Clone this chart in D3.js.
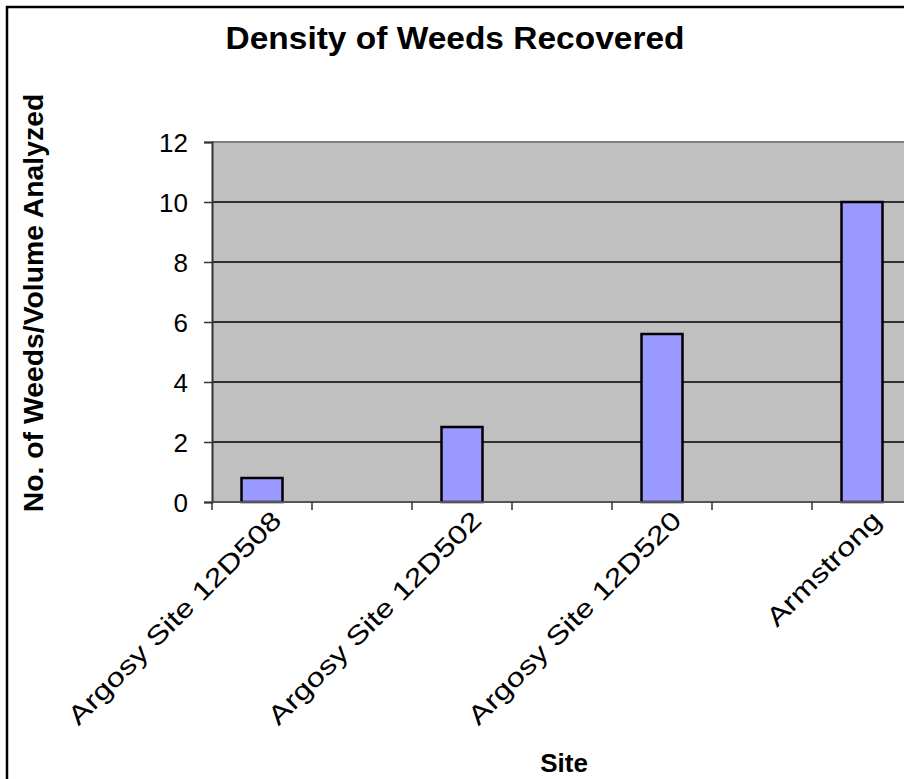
<!DOCTYPE html>
<html>
<head>
<meta charset="utf-8">
<script src="https://cdn.jsdelivr.net/npm/d3@7/dist/d3.min.js"></script>
<style>
  html, body { margin: 0; padding: 0; background: #fff; }
  svg { display: block; font-family: "Liberation Sans", Arial, sans-serif; }
</style>
</head>
<body>
<svg id="chart" width="904" height="779"></svg>
<script>
const categories = ["Argosy Site 12D508", "", "Argosy Site 12D502", "", "Argosy Site 12D520", "", "Armstrong"];
const values = [0.8, null, 2.5, null, 5.6, null, 10];
const yTicks = [0, 2, 4, 6, 8, 10, 12];
const titleText = "Density of Weeds Recovered";
const yTitle = "No. of Weeds/Volume Analyzed";
const xTitle = "Site";

const svg = d3.select("#chart");
const plot = { left: 212, right: 912, top: 142, bottom: 502 };

// outer chart border
svg.append("rect").attr("x", 7).attr("y", 7).attr("width", 1000).attr("height", 1000)
  .attr("fill", "#fff").attr("stroke", "#000").attr("stroke-width", 2.5);

const x = d3.scaleBand().domain(d3.range(categories.length)).range([plot.left, plot.right]).padding(0);
const y = d3.scaleLinear().domain([0, 12]).range([plot.bottom, plot.top]);

// plot background
svg.append("rect").attr("x", plot.left).attr("y", plot.top)
  .attr("width", plot.right - plot.left).attr("height", plot.bottom - plot.top)
  .attr("fill", "#C0C0C0");
svg.append("line").attr("x1", plot.left).attr("x2", plot.right)
  .attr("y1", y(12)).attr("y2", y(12)).attr("stroke", "#808080").attr("stroke-width", 2);

// gridlines
svg.append("g").selectAll("line").data(yTicks.filter(d => d > 0 && d < 12)).join("line")
  .attr("x1", plot.left).attr("x2", plot.right)
  .attr("y1", d => y(d)).attr("y2", d => y(d))
  .attr("stroke", "#000").attr("stroke-width", 1.5);

// y axis
const yAxis = d3.axisLeft(y).tickValues(yTicks).tickSize(8).tickPadding(16).tickFormat(d3.format("d"));
const yg = svg.append("g").attr("transform", `translate(${plot.left},0)`).call(yAxis);
yg.select(".domain").attr("stroke", "#333").attr("stroke-width", 2);
yg.selectAll(".tick line").attr("stroke", "#333").attr("stroke-width", 1.5);
yg.selectAll(".tick text").attr("font-size", 26).attr("fill", "#000")
  .attr("font-family", "Liberation Sans, Arial, sans-serif").attr("dy", "0.36em");

// bars
const barW = x.bandwidth() * 0.41;
svg.append("g").selectAll("rect")
  .data(values.map((v, i) => ({ v, i })).filter(d => d.v !== null))
  .join("rect")
  .attr("x", d => x(d.i) + (x.bandwidth() - barW) / 2)
  .attr("y", d => y(d.v))
  .attr("width", barW)
  .attr("height", d => y(0) - y(d.v))
  .attr("fill", "#9999FF").attr("stroke", "#000").attr("stroke-width", 2.5);

// x axis (ticks at category boundaries)
const xg = svg.append("g");
xg.append("line").attr("x1", plot.left).attr("x2", plot.right)
  .attr("y1", plot.bottom).attr("y2", plot.bottom).attr("stroke", "#555").attr("stroke-width", 2);
xg.selectAll("line.tk").data(d3.range(categories.length + 1)).join("line").attr("class", "tk")
  .attr("x1", i => plot.left + i * x.step()).attr("x2", i => plot.left + i * x.step())
  .attr("y1", plot.bottom).attr("y2", plot.bottom + 8)
  .attr("stroke", "#333").attr("stroke-width", 1.5);

function stretch(sel, factor) {
  sel.each(function () {
    const len = this.getComputedTextLength();
    d3.select(this).attr("textLength", len * factor).attr("lengthAdjust", "spacingAndGlyphs");
  });
}

// x labels rotated
const labs = xg.selectAll("text.lab").data(categories.map((c, i) => ({ c, i })).filter(d => d.c !== ""))
  .join("text").attr("class", "lab")
  .attr("transform", d => `translate(${x(d.i) + x.bandwidth() / 2 + 21},${plot.bottom + 20}) rotate(-45)`)
  .attr("text-anchor", "end")
  .attr("font-size", 26)
  .text(d => d.c);
stretch(labs, 1.25);

// title
const t = svg.append("text").attr("x", 455).attr("y", 49).attr("text-anchor", "middle")
  .attr("font-size", 31).attr("font-weight", "bold").text(titleText);
stretch(t, 1.08);

// y title
const yt = svg.append("text").attr("transform", `translate(43,303) rotate(-90)`).attr("text-anchor", "middle")
  .attr("font-size", 27).attr("font-weight", "bold").text(yTitle);
stretch(yt, 1.05);

// x title
svg.append("text").attr("x", 564).attr("y", 772).attr("text-anchor", "middle")
  .attr("font-size", 26).attr("font-weight", "bold").text(xTitle);
</script>
</body>
</html>
